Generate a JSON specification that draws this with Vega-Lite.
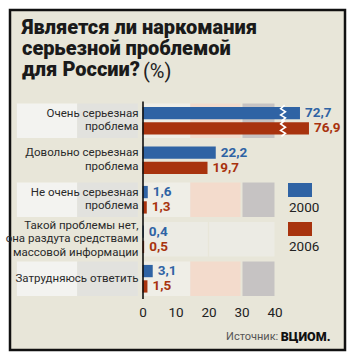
{
  "$schema": "https://vega.github.io/schema/vega-lite/v6.json",
  "autosize": {"type": "none"},
  "padding": {"left": 10, "top": 10, "right": 11, "bottom": 11},
  "width": 335,
  "height": 340,
  "background": "white",
  "config": {
    "locale": {"number": {"decimal": ",", "thousands": " ", "grouping": [3], "currency": ["", ""]}},
    "view": {"fill": "#e8e6d9", "stroke": "#111111", "strokeWidth": 2.5},
    "font": "Roboto, Liberation Sans, sans-serif"
  },
  "title": {
    "text": ["Является ли наркомания", "серьезной проблемой", "для России?"],
    "anchor": "start",
    "frame": "group",
    "dx": 12,
    "offset": -70,
    "fontSize": 20,
    "fontWeight": 900,
    "lineHeight": 21,
    "color": "#1a1a1a"
  },
  "datasets": {
    "main": [
      {"cat": "Очень серьезная|проблема", "year": "2000", "value": 72.7},
      {"cat": "Очень серьезная|проблема", "year": "2006", "value": 76.9},
      {"cat": "Довольно серьезная|проблема", "year": "2000", "value": 22.2},
      {"cat": "Довольно серьезная|проблема", "year": "2006", "value": 19.7},
      {"cat": "Не очень серьезная|проблема", "year": "2000", "value": 1.6},
      {"cat": "Не очень серьезная|проблема", "year": "2006", "value": 1.3},
      {"cat": "Такой проблемы нет,|она раздута средствами|массовой информации", "year": "2000", "value": 0.4},
      {"cat": "Такой проблемы нет,|она раздута средствами|массовой информации", "year": "2006", "value": 0.5},
      {"cat": "Затрудняюсь ответить", "year": "2000", "value": 3.1},
      {"cat": "Затрудняюсь ответить", "year": "2006", "value": 1.5}
    ],
    "bands": [
      {"cat": "Очень серьезная|проблема", "start": -38.5, "end": -20, "shade": "lblA"},
      {"cat": "Очень серьезная|проблема", "start": -20, "end": -1.4, "shade": "lblB"},
      {"cat": "Очень серьезная|проблема", "start": 0, "end": 14.5, "shade": "p0"},
      {"cat": "Очень серьезная|проблема", "start": 14.5, "end": 29.7, "shade": "p1"},
      {"cat": "Очень серьезная|проблема", "start": 30.3, "end": 40, "shade": "p2"},
      {"cat": "Не очень серьезная|проблема", "start": -38.5, "end": -20, "shade": "lblA"},
      {"cat": "Не очень серьезная|проблема", "start": -20, "end": -1.4, "shade": "lblB"},
      {"cat": "Не очень серьезная|проблема", "start": 0, "end": 14.5, "shade": "p0"},
      {"cat": "Не очень серьезная|проблема", "start": 14.5, "end": 29.7, "shade": "p1"},
      {"cat": "Не очень серьезная|проблема", "start": 30.3, "end": 40, "shade": "p2"},
      {"cat": "Такой проблемы нет,|она раздута средствами|массовой информации", "start": 0, "end": 19.8, "shade": "q"},
      {"cat": "Такой проблемы нет,|она раздута средствами|массовой информации", "start": 20.2, "end": 40, "shade": "q"},
      {"cat": "Затрудняюсь ответить", "start": -38.5, "end": -20, "shade": "lblA"},
      {"cat": "Затрудняюсь ответить", "start": -20, "end": -1.4, "shade": "lblB"},
      {"cat": "Затрудняюсь ответить", "start": 0, "end": 14.5, "shade": "p0"},
      {"cat": "Затрудняюсь ответить", "start": 14.5, "end": 29.7, "shade": "p1"},
      {"cat": "Затрудняюсь ответить", "start": 30.3, "end": 40, "shade": "p2"}
    ]
  },
  "layer": [
    {
      "data": {"name": "bands"},
      "mark": {"type": "bar", "height": {"band": 1.25}},
      "encoding": {
        "y": {
          "field": "cat", "type": "nominal", "sort": null,
          "scale": {
            "domain": [
              "Очень серьезная|проблема",
              "Довольно серьезная|проблема",
              "Не очень серьезная|проблема",
              "Такой проблемы нет,|она раздута средствами|массовой информации",
              "Затрудняюсь ответить"
            ],
            "range": [91, 288.5],
            "paddingInner": 0.3,
            "paddingOuter": 0.15
          },
          "axis": {
            "orient": "left",
            "offset": -132.5,
            "zindex": 1,
            "ticks": false,
            "labelPadding": 4.5,
            "labelExpr": "split(datum.label, '|')",
            "labelOffset": {
              "condition": [
                {"test": "indexof(datum.value, 'Такой') == 0", "value": -13.5},
                {"test": "indexof(datum.value, '|') > 0", "value": -7}
              ],
              "value": 0
            },
            "labelFontSize": 11.5,
            "labelLineHeight": 13.5,
            "labelColor": "#2a2a2a",
            "labelAlign": "right",
            "labelBaseline": "middle",
            "labelLimit": 200,
            "domainColor": "#111111",
            "domainWidth": 1.6,
            "grid": false,
            "title": "(%)",
            "titleAngle": 0,
            "titleX": 0,
            "titleY": 67,
            "titleAlign": "left",
            "titleBaseline": "alphabetic",
            "titleFontSize": 20,
            "titleFontWeight": "normal",
            "titleColor": "#222222"
          }
        },
        "x": {
          "field": "start", "type": "quantitative",
          "scale": {
            "domain": [-40, 0, 40, 70, 80],
            "range": [2, 132.5, 264.5, 284.2, 305.6],
            "zero": false, "nice": false
          },
          "axis": {
            "orient": "bottom",
            "offset": -45,
            "zindex": 1,
            "values": [0, 10, 20, 30, 40, 45],
            "labelExpr": "datum.value == 45 ? 'Источник:' : datum.label",
            "labelOverlap": false,
            "labelFontSize": {"condition": {"test": "datum.value == 45", "value": 11}, "value": 13.5},
            "labelAlign": {"condition": {"test": "datum.value == 45", "value": "right"}, "value": "center"},
            "labelColor": {"condition": {"test": "datum.value == 45", "value": "#555555"}, "value": "#222222"},
            "labelPadding": {"condition": {"test": "datum.value == 45", "value": 25}, "value": 0},
            "domain": false,
            "ticks": false,
            "tickSize": 0,
            "grid": false,
            "labelBaseline": "top",
            "title": "ВЦИОМ.",
            "titleX": 320,
            "titleY": 35,
            "titleAlign": "right",
            "titleBaseline": "alphabetic",
            "titleFontSize": 12.5,
            "titleFontWeight": 900,
            "titleColor": "#111111"
          }
        },
        "x2": {"field": "end"},
        "fill": {
          "field": "shade", "type": "nominal", "legend": null,
          "scale": {
            "domain": ["lblA", "lblB", "p0", "p1", "p2", "q"],
            "range": ["#f3f3f0", "#e2e2de", "#efeee7", "#f3dbcc", "#c6c3c3", "#ecebe4"]
          }
        }
      }
    },
    {
      "data": {"name": "main"},
      "mark": {"type": "bar"},
      "encoding": {
        "y": {"field": "cat", "type": "nominal", "sort": null},
        "yOffset": {"field": "year", "type": "nominal", "scale": {"paddingInner": 0.2}},
        "x": {"field": "value", "type": "quantitative"},
        "color": {
          "field": "year", "type": "nominal",
          "scale": {"domain": ["2000", "2006"], "range": ["#2f63a4", "#a8330e"]},
          "legend": {
            "orient": "none",
            "legendX": 278,
            "legendY": 168,
            "title": null,
            "symbolType": "M-1,-0.583H1V0.583H-1Z",
            "symbolSize": 576,
            "symbolStrokeWidth": 0,
            "symbolOpacity": 1,
            "labelOffset": -23,
            "labelFontSize": 13.5,
            "labelColor": "#222222",
            "rowPadding": 2,
            "encode": {
              "labels": {"update": {"dy": {"value": 18}}}
            }
          }
        }
      }
    },
    {
      "data": {"name": "main"},
      "transform": [{"filter": "datum.value > 40"}],
      "mark": {
        "type": "point",
        "shape": "M0.2,-1L-0.3,-0.55L0.3,-0.15L-0.3,0.25L0.3,0.6L-0.2,1",
        "size": 256,
        "filled": false,
        "stroke": "white",
        "strokeWidth": 1.6,
        "opacity": 1
      },
      "encoding": {
        "y": {"field": "cat", "type": "nominal", "sort": null},
        "yOffset": {"field": "year", "type": "nominal"},
        "x": {"datum": 53}
      }
    },
    {
      "data": {"name": "main"},
      "mark": {"type": "text", "align": "left", "baseline": "middle", "dx": 5, "fontSize": 13.5, "fontWeight": "bold"},
      "encoding": {
        "y": {"field": "cat", "type": "nominal", "sort": null},
        "yOffset": {"field": "year", "type": "nominal"},
        "x": {"field": "value", "type": "quantitative"},
        "text": {"field": "value", "type": "quantitative", "format": ".1f"},
        "color": {"field": "year", "type": "nominal"}
      }
    }
  ]
}
